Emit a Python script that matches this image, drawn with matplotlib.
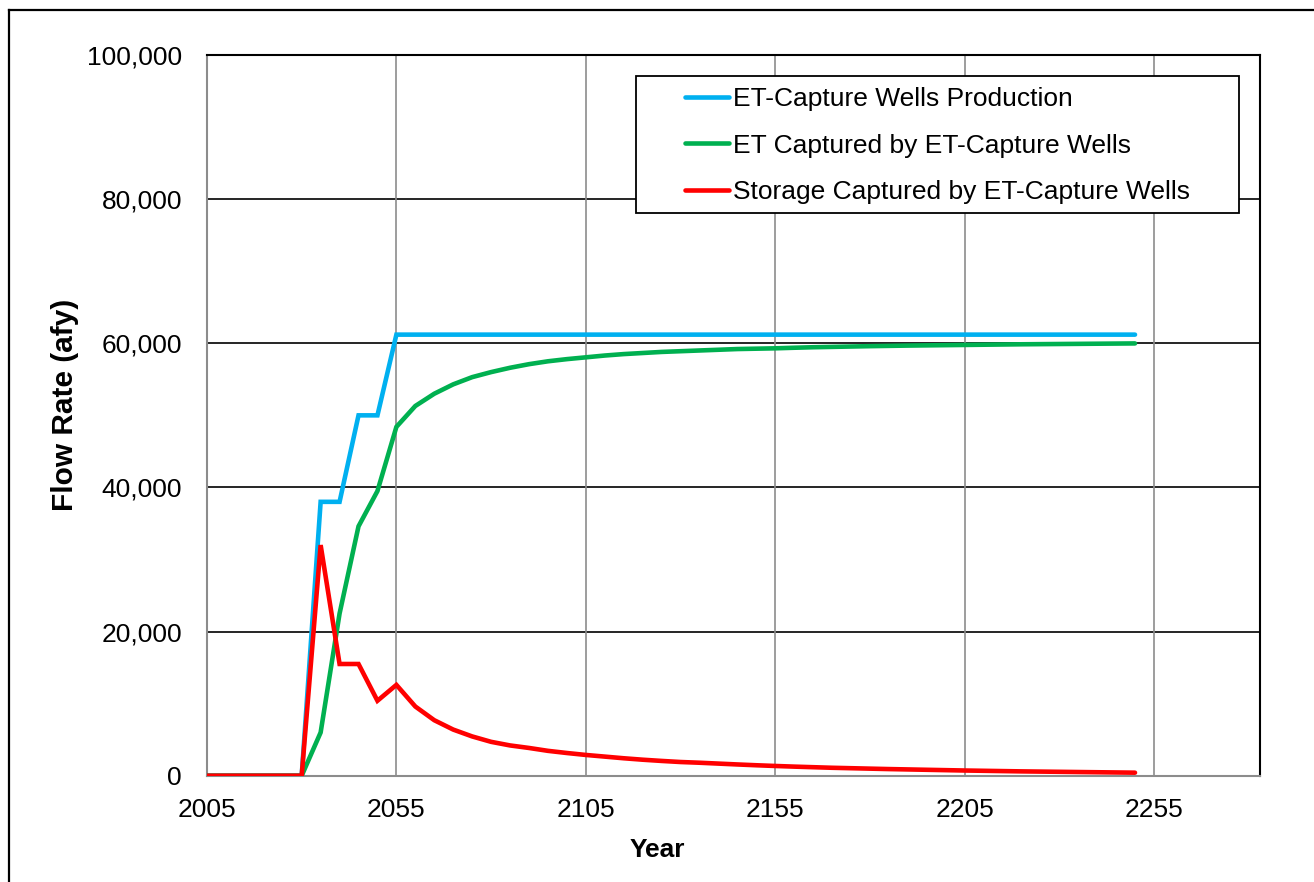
import numpy as np
import matplotlib.pyplot as plt
from matplotlib.lines import Line2D
from matplotlib.patches import Rectangle
from matplotlib.ticker import FuncFormatter

plt.rcParams['font.family'] = ['Liberation Sans', 'DejaVu Sans']

# Simulation years (5-year steps)
years = list(range(2005, 2255, 5))

# ET-capture wells pumping (afy)
production = [0, 0, 0, 0, 0, 0, 38000, 38000, 50000, 50000] + [61200] * 40

# ET captured by the wells (afy)
et_captured = [0, 0, 0, 0, 0, 0, 6000, 22500, 34600, 39500,
               48400, 51300, 53000, 54300, 55300, 56000, 56600, 57100, 57500, 57800,
               58050, 58300, 58500, 58650, 58800, 58900, 59000, 59100, 59200, 59250,
               59300, 59380, 59450, 59500, 59550, 59600, 59640, 59680, 59710, 59740,
               59770, 59800, 59830, 59860, 59880, 59900, 59920, 59940, 59960, 59980]

# Storage captured by the wells (afy)
storage_captured = [0, 0, 0, 0, 0, 0, 32000, 15500, 15500, 10400,
                    12600, 9600, 7700, 6400, 5450, 4700, 4200, 3850, 3450, 3150,
                    2880, 2650, 2420, 2220, 2050, 1900, 1800, 1680, 1560, 1450,
                    1350, 1260, 1180, 1100, 1040, 980, 920, 870, 820, 770,
                    720, 680, 640, 600, 570, 540, 510, 480, 450, 420]

x_ticks = [2005, 2055, 2105, 2155, 2205, 2255]
y_ticks = [0, 20000, 40000, 60000, 80000, 100000]

W, H = 1314, 882
fig = plt.figure(figsize=(W / 100, H / 100), dpi=100)
ax = fig.add_axes([207 / W, 1 - 775.7 / H, (1260 - 207) / W, (775.7 - 55) / H])

lw = 3.3
ax.plot(years, production, color='#00B0F0', lw=lw, solid_capstyle='round',
        solid_joinstyle='miter', label='ET-Capture Wells Production', zorder=5)
ax.plot(years, et_captured, color='#00B050', lw=lw, solid_capstyle='round',
        solid_joinstyle='miter', label='ET Captured by ET-Capture Wells', zorder=5)
ax.plot(years, storage_captured, color='#FF0000', lw=lw, solid_capstyle='round',
        solid_joinstyle='miter', label='Storage Captured by ET-Capture Wells', zorder=5)

ax.set_xlim(2005, 2283)
ax.set_ylim(0, 100000)
ax.set_xticks(x_ticks)
ax.set_yticks(y_ticks)
ax.yaxis.set_major_formatter(FuncFormatter(lambda v, p: f'{v:,.0f}'))
ax.tick_params(length=0, labelsize=19, pad=16)
ax.tick_params(axis='y', pad=18)

# gridlines: black horizontal, grey vertical
for yv in y_ticks[1:]:
    ax.axhline(yv, color='black', lw=1.2, zorder=1)
for xv in x_ticks[1:]:
    ax.axvline(xv, color='#8C8C8C', lw=1.2, zorder=1)

for side in ['left', 'bottom']:
    ax.spines[side].set_color('#8C8C8C')
    ax.spines[side].set_linewidth(1.5)
for side in ['top', 'right']:
    ax.spines[side].set_color('black')
    ax.spines[side].set_linewidth(1.5)


def to_ax(px, py):
    return ((px - 207) / (1260 - 207), (775.7 - py) / (775.7 - 55))


ax.set_xlabel('Year', fontsize=19, fontweight='bold')
ax.set_ylabel('Flow Rate (afy)', fontsize=21.5, fontweight='bold')
ax.xaxis.set_label_coords(*to_ax(657, 838))
ax.yaxis.set_label_coords(*to_ax(79, 405))

# legend with a separate frame box
lx, ly = to_ax(685, 87)
leg = ax.legend(loc='upper left', bbox_to_anchor=(lx, ly), frameon=False,
                fontsize=19, borderpad=0, handlelength=1.65, handletextpad=0.18,
                labelspacing=0.86, borderaxespad=0)
for h in leg.get_lines():
    h.set_linewidth(3.3)
x0, y0 = to_ax(636, 213)
x1, y1 = to_ax(1239, 76)
ax.add_patch(Rectangle((x0, y0), x1 - x0, y1 - y0, transform=ax.transAxes,
                       facecolor='white', edgecolor='black', lw=1.3, zorder=6))
leg.set_zorder(7)

# outer chart border
fig.add_artist(Line2D([9 / W, 9 / W], [0, 1 - 10 / H], color='black', lw=1.6))
fig.add_artist(Line2D([9 / W, 1], [1 - 10 / H, 1 - 10 / H], color='black', lw=1.6))

fig.savefig('out.png', dpi=100)
